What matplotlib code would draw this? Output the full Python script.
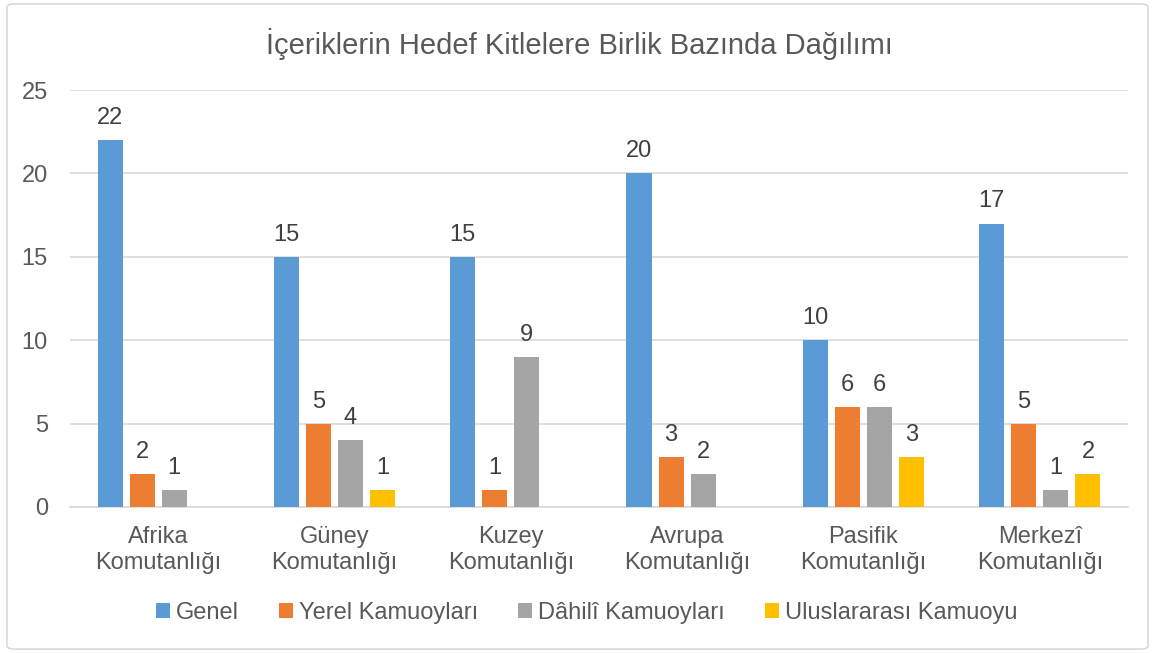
import matplotlib.pyplot as plt
import numpy as np
from matplotlib.patches import FancyBboxPatch

plt.rcParams['font.family'] = ['Liberation Sans', 'DejaVu Sans']

categories = ["Afrika\nKomutanlığı", "Güney\nKomutanlığı", "Kuzey\nKomutanlığı",
              "Avrupa\nKomutanlığı", "Pasifik\nKomutanlığı", "Merkezî\nKomutanlığı"]
series_names = ["Genel", "Yerel Kamuoyları", "Dâhilî Kamuoyları", "Uluslararası Kamuoyu"]
genel = [22, 15, 15, 20, 10, 17]
yerel = [2, 5, 1, 3, 6, 5]
dahili = [1, 4, 9, 2, 6, 1]
uluslararasi = [np.nan, 1, np.nan, np.nan, 3, 2]
colors = ["#5B9BD5", "#ED7D31", "#A5A5A5", "#FFC000"]

values = [genel, yerel, dahili, uluslararasi]

fig = plt.figure(figsize=(11.55, 6.53), dpi=100)
ax = fig.add_axes([0.0606, 0.2236, 0.916, 0.6384])

fs = 17
x = np.arange(len(categories))
step = 0.182
width = 0.142
for i, (name, vals) in enumerate(zip(series_names, values)):
    pos = x + (i - 1.5) * step
    bars = ax.bar(pos, vals, width, color=colors[i], label=name, zorder=3)
    for xp, v in zip(pos, vals):
        if not np.isnan(v):
            ax.annotate(f"{int(v)}", (xp, v), xytext=(0, 8), textcoords="offset points",
                        ha="center", va="bottom", fontsize=fs, color="#404040")

ax.set_xlim(-0.5, len(categories) - 0.5)
ax.set_ylim(0, 25)
ax.set_yticks(range(0, 26, 5))
ax.set_xticks(x)
ax.set_xticklabels(categories, fontsize=fs, color="#595959", linespacing=1.2)
ax.tick_params(axis="y", labelsize=fs, labelcolor="#595959", length=0, pad=16)
ax.tick_params(axis="x", length=0, pad=14)
ax.grid(axis="y", color="#D9D9D9", linewidth=1.2, zorder=0)
for s in ["top", "right", "left"]:
    ax.spines[s].set_visible(False)
ax.spines["bottom"].set_color("#D9D9D9")
ax.spines["bottom"].set_linewidth(1.2)

fig.text(0.502, 0.932, "İçeriklerin Hedef Kitlelere Birlik Bazında Dağılımı",
         ha="center", va="center", fontsize=21, color="#595959")

leg = fig.legend(loc="center", bbox_to_anchor=(0.508, 0.061), ncol=4, frameon=False,
                 fontsize=fs, handlelength=0.6, handleheight=0.6, handletextpad=0.25,
                 columnspacing=1.7)
for t in leg.get_texts():
    t.set_color("#595959")

border = FancyBboxPatch((0.006, 0.006), 0.988, 0.988, boxstyle="round,pad=0,rounding_size=0.006",
                        transform=fig.transFigure, fill=False, edgecolor="#D9D9D9", linewidth=1.2)
fig.patches.append(border)

plt.savefig("out.png", dpi=100)
